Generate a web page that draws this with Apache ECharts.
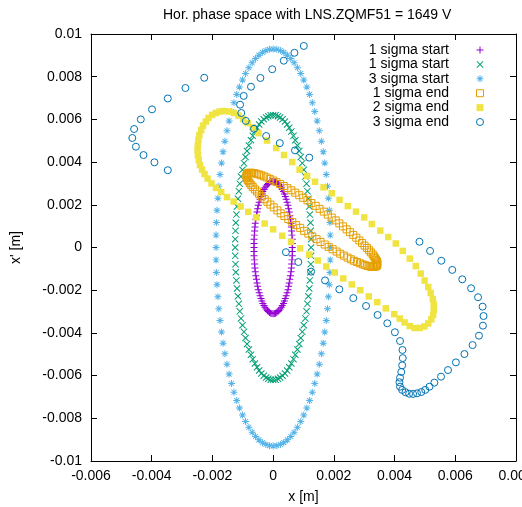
<!DOCTYPE html>
<html><head><meta charset="utf-8">
<script src="https://cdn.jsdelivr.net/npm/echarts@6/dist/echarts.min.js"></script>
<style>html,body{margin:0;padding:0;background:#fff}#c{width:522px;height:507px}</style>
</head><body><div id="c"></div>
<script>
// Tick labels
const xTickLabels = ['-0.006','-0.004','-0.002','0','0.002','0.004','0.006','0.008'];
const yTickLabels = ['-0.01','-0.008','-0.006','-0.004','-0.002','0','0.002','0.004','0.006','0.008','0.01'];
const seriesLabels = ['1 sigma start','1 sigma start','3 sigma start','1 sigma end','2 sigma end','3 sigma end'];

// All coordinates below are in mm / mrad (converted to m when handed to ECharts)
const start1X = [.63,.63,.63,.62,.61,.60,.59,.57,.55,.53,.51,.49,.46,.43,.40,.37,.34,.30,.27,.23,.19,.16,.12,.08,.04,0,
-.04,-.08,-.12,-.16,-.19,-.23,-.27,-.30,-.34,-.37,-.40,-.43,-.46,-.49,-.51,-.53,-.55,-.57,-.59,-.60,-.61,-.62,-.63,-.63,-.63,
-.63,-.63,-.62,-.61,-.60,-.59,-.57,-.55,-.53,-.51,-.49,-.46,-.43,-.40,-.37,-.34,-.30,-.27,-.23,-.19,-.16,-.12,-.08,-.04,0,
.04,.08,.12,.16,.19,.23,.27,.30,.34,.37,.40,.43,.46,.49,.51,.53,.55,.57,.59,.60,.61,.62,.63,.63];
const start1Y = [0,.19,.39,.58,.77,.96,1.14,1.32,1.49,1.66,1.82,1.98,2.12,2.26,2.39,2.51,2.62,2.72,2.80,2.88,2.95,3.00,3.05,3.08,3.09,3.10,
3.09,3.08,3.05,3.00,2.95,2.88,2.80,2.72,2.62,2.51,2.39,2.26,2.12,1.98,1.82,1.66,1.49,1.32,1.14,.96,.77,.58,.39,.19,0,
-.19,-.39,-.58,-.77,-.96,-1.14,-1.32,-1.49,-1.66,-1.82,-1.98,-2.12,-2.26,-2.39,-2.51,-2.62,-2.72,-2.80,-2.88,-2.95,-3.00,-3.05,-3.08,-3.09,-3.10,
-3.09,-3.08,-3.05,-3.00,-2.95,-2.88,-2.80,-2.72,-2.62,-2.51,-2.39,-2.26,-2.12,-1.98,-1.82,-1.66,-1.49,-1.32,-1.14,-.96,-.77,-.58,-.39,-.19];

const start2X = [1.25,1.25,1.24,1.23,1.21,1.19,1.16,1.13,1.10,1.06,1.01,.96,.91,.86,.80,.73,.67,.60,.53,.46,.39,.31,.23,.16,.08,0,
-.08,-.16,-.23,-.31,-.39,-.46,-.53,-.60,-.67,-.73,-.80,-.86,-.91,-.96,-1.01,-1.06,-1.10,-1.13,-1.16,-1.19,-1.21,-1.23,-1.24,-1.25,-1.25,
-1.25,-1.24,-1.23,-1.21,-1.19,-1.16,-1.13,-1.10,-1.06,-1.01,-.96,-.91,-.86,-.80,-.73,-.67,-.60,-.53,-.46,-.39,-.31,-.23,-.16,-.08,0,
.08,.16,.23,.31,.39,.46,.53,.60,.67,.73,.80,.86,.91,.96,1.01,1.06,1.10,1.13,1.16,1.19,1.21,1.23,1.24,1.25];
const start2Y = [0,.39,.78,1.16,1.54,1.92,2.28,2.64,2.99,3.32,3.64,3.95,4.24,4.52,4.78,5.02,5.23,5.43,5.61,5.76,5.90,6.01,6.09,6.15,6.19,6.20,
6.19,6.15,6.09,6.01,5.90,5.76,5.61,5.43,5.23,5.02,4.78,4.52,4.24,3.95,3.64,3.32,2.99,2.64,2.28,1.92,1.54,1.16,.78,.39,0,
-.39,-.78,-1.16,-1.54,-1.92,-2.28,-2.64,-2.99,-3.32,-3.64,-3.95,-4.24,-4.52,-4.78,-5.02,-5.23,-5.43,-5.61,-5.76,-5.90,-6.01,-6.09,-6.15,-6.19,-6.20,
-6.19,-6.15,-6.09,-6.01,-5.90,-5.76,-5.61,-5.43,-5.23,-5.02,-4.78,-4.52,-4.24,-3.95,-3.64,-3.32,-2.99,-2.64,-2.28,-1.92,-1.54,-1.16,-.78,-.39];

const start3X = [1.88,1.88,1.87,1.85,1.82,1.79,1.75,1.70,1.65,1.59,1.52,1.45,1.37,1.29,1.20,1.11,1.01,.91,.80,.69,.58,.47,.35,.24,.12,0,
-.12,-.24,-.35,-.47,-.58,-.69,-.80,-.91,-1.01,-1.11,-1.20,-1.29,-1.37,-1.45,-1.52,-1.59,-1.65,-1.70,-1.75,-1.79,-1.82,-1.85,-1.87,-1.88,-1.88,
-1.88,-1.87,-1.85,-1.82,-1.79,-1.75,-1.70,-1.65,-1.59,-1.52,-1.45,-1.37,-1.29,-1.20,-1.11,-1.01,-.91,-.80,-.69,-.58,-.47,-.35,-.24,-.12,0,
.12,.24,.35,.47,.58,.69,.80,.91,1.01,1.11,1.20,1.29,1.37,1.45,1.52,1.59,1.65,1.70,1.75,1.79,1.82,1.85,1.87,1.88];
const start3Y = [0,.58,1.17,1.74,2.31,2.87,3.42,3.96,4.48,4.98,5.47,5.93,6.37,6.78,7.17,7.52,7.85,8.15,8.42,8.65,8.85,9.01,9.14,9.23,9.28,9.30,
9.28,9.23,9.14,9.01,8.85,8.65,8.42,8.15,7.85,7.52,7.17,6.78,6.37,5.93,5.47,4.98,4.48,3.96,3.42,2.87,2.31,1.74,1.17,.58,0,
-.58,-1.17,-1.74,-2.31,-2.87,-3.42,-3.96,-4.48,-4.98,-5.47,-5.93,-6.37,-6.78,-7.17,-7.52,-7.85,-8.15,-8.42,-8.65,-8.85,-9.01,-9.14,-9.23,-9.28,-9.30,
-9.28,-9.23,-9.14,-9.01,-8.85,-8.65,-8.42,-8.15,-7.85,-7.52,-7.17,-6.78,-6.37,-5.93,-5.47,-4.98,-4.48,-3.96,-3.42,-2.87,-2.31,-1.74,-1.17,-.58];

const end1X = [3.42,3.40,3.37,3.33,3.29,3.23,3.17,3.11,3.03,2.95,2.86,2.76,2.66,2.56,2.45,2.33,2.21,2.09,1.96,1.83,1.70,1.56,1.43,1.29,1.16,1.02,
0.89,0.76,0.63,0.50,0.37,0.25,0.14,0.02,-0.09,-0.19,-0.28,-0.37,-0.46,-0.53,-0.60,-0.67,-0.72,-0.77,-0.81,-0.84,-0.86,-0.87,-0.88,-0.87,-0.86,
-0.84,-0.81,-0.78,-0.73,-0.68,-0.62,-0.55,-0.47,-0.39,-0.30,-0.21,-0.11,0.00,0.11,0.23,0.35,0.47,0.60,0.73,0.86,0.99,1.13,1.26,1.40,1.53,
1.67,1.80,1.93,2.06,2.18,2.30,2.42,2.53,2.64,2.74,2.84,2.93,3.01,3.09,3.16,3.22,3.28,3.32,3.36,3.39,3.42,3.43,3.43,3.43];
const end1Y = [-0.84,-0.87,-0.89,-0.90,-0.91,-0.90,-0.88,-0.86,-0.83,-0.79,-0.74,-0.68,-0.62,-0.55,-0.47,-0.38,-0.29,-0.19,-0.08,0.03,0.14,0.26,0.39,0.52,0.65,0.78,
0.92,1.05,1.19,1.33,1.47,1.60,1.74,1.88,2.01,2.14,2.26,2.39,2.50,2.62,2.72,2.83,2.92,3.01,3.10,3.17,3.24,3.30,3.36,3.40,3.44,
3.47,3.49,3.50,3.50,3.49,3.48,3.45,3.42,3.38,3.33,3.28,3.21,3.14,3.06,2.97,2.88,2.78,2.68,2.57,2.45,2.33,2.21,2.08,1.95,1.81,
1.68,1.54,1.40,1.27,1.13,0.99,0.85,0.72,0.59,0.46,0.33,0.21,0.09,-0.02,-0.13,-0.23,-0.33,-0.42,-0.50,-0.58,-0.65,-0.71,-0.76,-0.81];

const end2X = [-1.63,-1.45,-1.29,-1.14,-0.99,-0.84,-0.68,-0.48,-0.20,0.10,0.36,0.63,0.87,1.12,1.38,1.66,1.93,2.19,2.46,2.73,3.00,3.25,3.53,3.79,4.04,
4.27,4.50,4.70,4.86,4.99,5.11,5.19,5.26,5.29,5.29,5.27,5.21,5.11,4.98,4.83,4.66,4.50,4.33,4.17,
3.99,3.71,3.43,3.15,2.87,2.59,2.31,2.03,1.75,1.47,1.19,0.89,0.59,0.30,0.00,-0.28,-0.56,-0.82,-1.07,-1.30,
-1.52,-1.71,-1.88,-2.03,-2.16,-2.26,-2.34,-2.41,-2.45,-2.48,-2.49,-2.48,-2.46,-2.43,-2.37,-2.31,-2.22,-2.13,-2.01,-1.89,-1.76];
const end2Y = [6.39,6.37,6.30,6.18,6.02,5.83,5.62,5.36,5.01,4.66,4.33,4.00,3.65,3.35,3.08,2.82,2.54,2.23,1.94,1.68,1.41,1.10,0.79,0.49,0.19,
-0.16,-0.52,-0.87,-1.22,-1.55,-1.85,-2.13,-2.41,-2.67,-2.93,-3.16,-3.37,-3.56,-3.70,-3.77,-3.77,-3.68,-3.51,-3.33,
-3.12,-2.85,-2.56,-2.29,-2.00,-1.73,-1.45,-1.17,-0.89,-0.61,-0.33,-0.04,0.26,0.55,0.85,1.12,1.41,1.67,1.92,2.15,
2.36,2.60,2.79,3.00,3.23,3.44,3.65,3.86,4.10,4.33,4.57,4.80,5.04,5.27,5.50,5.71,5.90,6.07,6.21,6.30,6.37];

const end3X = [1.01,0.70,0.35,-0.03,-0.42,-0.73,-0.97,-1.09,-1.05,-0.90,-0.63,-0.23,0.22,0.72,1.19,
4.82,5.17,5.54,5.90,6.23,6.52,6.75,6.90,6.93,6.91,6.78,6.57,6.30,6.02,5.76,5.53,5.31,5.15,5.01,4.88,4.74,4.61,4.48,4.36,4.25,4.18,4.16,4.18,4.22,4.25,4.27,4.26,4.18,4.01,3.76,3.44,3.06,2.64,2.18,1.71,1.25,0.83,0.42,
-3.47,-3.91,-4.27,-4.52,-4.64,-4.58,-4.36,-3.99,-3.47,-2.89,-2.27];
const end3Y = [9.44,9.12,8.75,8.35,7.94,7.53,7.10,6.69,6.30,5.93,5.56,5.22,4.89,4.55,4.21,
0.27,-0.16,-0.62,-1.05,-1.49,-1.91,-2.33,-2.77,-3.21,-3.66,-4.13,-4.57,-4.99,-5.38,-5.74,-6.05,-6.33,-6.52,-6.67,-6.77,-6.83,-6.86,-6.85,-6.78,-6.67,-6.52,-6.31,-6.10,-5.83,-5.52,-5.18,-4.80,-4.38,-3.97,-3.55,-3.16,-2.74,-2.37,-1.96,-1.54,-1.13,-0.68,-0.22,
3.62,3.99,4.33,4.72,5.13,5.55,6.00,6.47,6.98,7.47,7.95];

const MM = 0.001;
function pts(xs, ys) { return xs.map((x, i) => [x * MM, ys[i] * MM]); }

const FONT = "'Liberation Sans', Arial, Helvetica, sans-serif";
const PLUS = 'path://M4.3,0H5.7V4.3H10V5.7H5.7V10H4.3V5.7H0V4.3H4.3Z';
const CROSS = 'path://M0,1L1,0L10,9L9,10ZM9,0L10,1L1,10L0,9Z';
const STAR = 'path://M4.3,0H5.7V4.3H10V5.7H5.7V10H4.3V5.7H0V4.3H4.3ZM1,1.9L1.9,1L9,8.1L8.1,9ZM8.1,1L9,1.9L1.9,9L1,8.1Z';
const SQUARE = 'path://M0,0H10V10H0Z';
const NONE = 'rgba(0,0,0,0)';

const xMin = -0.006, xMax = 0.008, xStep = 0.002;
const yMin = -0.01, yMax = 0.01, yStep = 0.002;

const styles = [
  {symbol: PLUS, icon: PLUS, size: 7, item: {color: '#9400d3', opacity: 1}},
  {symbol: CROSS, icon: CROSS, size: 7, item: {color: '#009e73', opacity: 1}},
  {symbol: STAR, icon: STAR, size: 7, item: {color: '#56b4e9', opacity: 1}},
  {symbol: 'rect', icon: SQUARE, size: 7, item: {color: NONE, borderColor: '#e69f00', borderWidth: 1, opacity: 1}},
  {symbol: 'rect', icon: SQUARE, size: 6.5, item: {color: '#f0e442', opacity: 1}},
  {symbol: 'circle', icon: 'circle', size: 7, item: {color: NONE, borderColor: '#0072b2', borderWidth: 1, opacity: 1}}
];
const datasets = [pts(start1X, start1Y), pts(start2X, start2Y), pts(start3X, start3Y),
                  pts(end1X, end1Y), pts(end2X, end2Y), pts(end3X, end3Y)];

const axisCommonX = {
  type: 'value', min: xMin, max: xMax, interval: xStep,
  axisLine: {show: true, onZero: false, lineStyle: {color: '#000', width: 1}},
  axisTick: {show: true, inside: true, length: 6, lineStyle: {color: '#000', width: 1}},
  splitLine: {show: false}
};
const axisCommonY = {
  type: 'value', min: yMin, max: yMax, interval: yStep,
  axisLine: {show: true, onZero: false, lineStyle: {color: '#000', width: 1}},
  axisTick: {show: true, inside: true, length: 6, lineStyle: {color: '#000', width: 1}},
  splitLine: {show: false}
};

const chart = echarts.init(document.getElementById('c'), null, {renderer: 'canvas'});
chart.setOption({
  animation: false,
  backgroundColor: '#fff',
  title: {
    text: 'Hor. phase space with LNS.ZQMF51 = 1649 V',
    left: 158, top: 3,
    textStyle: {fontSize: 14, fontWeight: 'normal', color: '#000', fontFamily: FONT}
  },
  grid: {left: 91, right: 6, top: 34, bottom: 46, outerBoundsMode: 'none', containLabel: false},
  legend: {
    orient: 'vertical', right: 33, top: 38, align: 'right',
    itemWidth: 52, itemHeight: 7, itemGap: 0.4, selectedMode: false,
    textStyle: {fontSize: 14, lineHeight: 14, color: '#000', fontFamily: FONT},
    formatter: name => seriesLabels[+name.slice(1)],
    data: styles.map((s, i) => ({name: 's' + i, icon: s.icon,
      itemStyle: Object.assign({borderWidth: 0}, s.item)}))
  },
  xAxis: [
    Object.assign({}, axisCommonX, {
      position: 'bottom',
      axisLabel: {margin: 8, color: '#000', fontSize: 14, fontFamily: FONT,
        formatter: v => xTickLabels[Math.round((v - xMin) / xStep)]},
      name: 'x [m]', nameLocation: 'middle', nameGap: 29,
      nameTextStyle: {fontSize: 14, color: '#000', fontFamily: FONT}
    }),
    Object.assign({}, axisCommonX, {position: 'top', axisLabel: {show: false}})
  ],
  yAxis: [
    Object.assign({}, axisCommonY, {
      position: 'left',
      axisLabel: {margin: 9, color: '#000', fontSize: 14, fontFamily: FONT,
        formatter: v => yTickLabels[Math.round((v - yMin) / yStep)]},
      name: "x' [m]", nameLocation: 'middle', nameGap: 68, nameRotate: 90,
      nameTextStyle: {fontSize: 14, color: '#000', fontFamily: FONT}
    }),
    Object.assign({}, axisCommonY, {position: 'right', axisLabel: {show: false}})
  ],
  series: styles.map((s, i) => ({
    type: 'scatter', name: 's' + i, data: datasets[i],
    xAxisIndex: 0, yAxisIndex: 0,
    symbol: s.symbol, symbolSize: s.size, itemStyle: s.item,
    silent: true, emphasis: {disabled: true}, large: false
  }))
});
</script></body></html>
